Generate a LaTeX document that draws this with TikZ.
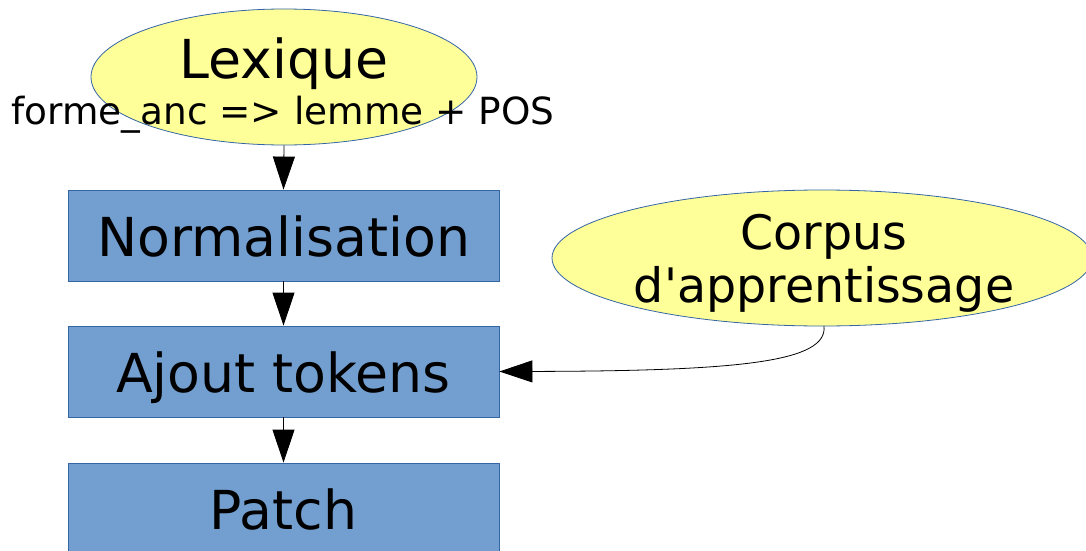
\documentclass[tikz,border=0pt]{standalone}
\usepackage{fontspec}
\setmainfont{DejaVu Sans}
\usetikzlibrary{shapes.geometric,arrows.meta}
\definecolor{boxfill}{HTML}{729FCF}
\definecolor{edgeblue}{HTML}{3465A4}
\definecolor{ellfill}{HTML}{FFFF99}
\tikzset{
  procbox/.style={draw=edgeblue, line width=0.8pt, fill=boxfill, rectangle,
    minimum width=431pt, minimum height=91pt, inner sep=0pt,
    text height=42pt, text depth=0pt,
    font=\fontsize{53.7}{60}\selectfont},
  source/.style={draw=edgeblue, line width=0.8pt, fill=ellfill, ellipse, inner sep=0pt},
  bigtext/.style={anchor=base, inner sep=0pt, font=\fontsize{53.7}{60}\selectfont},
  midtext/.style={anchor=base, inner sep=0pt, font=\fontsize{47.5}{54}\selectfont},
  smalltext/.style={anchor=base, inner sep=0pt, font=\fontsize{37.4}{44}\selectfont},
  flow/.style={line width=0.8pt, -{Triangle[length=33pt,width=22pt]}}
}
\begin{document}
\begin{tikzpicture}[x=1pt,y=-1pt]
  \useasboundingbox (0,0) rectangle (1086,551);
  \begin{scope}
    \clip (0,0) rectangle (1086,551);
    % sources
    \node[source, minimum width=386pt, minimum height=136pt] (lex) at (284,77) {};
    \node[source, minimum width=540pt, minimum height=136pt] (corpus) at (822,258) {};
    % processing steps
    \node[procbox] (norm)  at (283.5,235.5) {Normalisation};
    \node[procbox] (ajout) at (283.5,371.5) {Ajout tokens};
    \node[procbox] (patch) at (283.5,508.5) {Patch};
  \end{scope}
  % texts of the sources
  \node[bigtext] (lexT) at (284,78) {Lexique};
  \node[smalltext] (lexS) at (283,124) {forme\_anc => lemme + POS};
  \node[midtext] (corpusA) at (824,249) {Corpus};
  \node[midtext] (corpusB) at (824,302) {d\textquotesingle apprentissage};
  % connectors
  \draw[flow] (lex.south) -- (norm.north);
  \draw[flow] (norm.south) -- (ajout.north);
  \draw[flow] (ajout.south) -- (patch.north);
  \draw[flow] (824,326) .. controls (828,362) and (740,371) .. (ajout.east);
\end{tikzpicture}
\end{document}
